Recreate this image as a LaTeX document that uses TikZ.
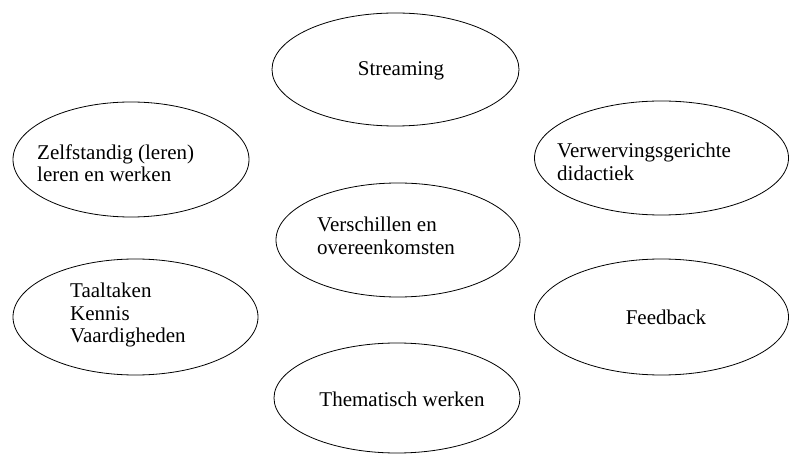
\documentclass[tikz,border=0pt]{standalone}
\usepackage{fontspec}
\setmainfont{Liberation Serif}
\usetikzlibrary{shapes.geometric}
\begin{document}
\begin{tikzpicture}[x=1pt,y=-1pt,
  bubble/.style={draw=black, line width=0.8pt, ellipse, inner sep=0pt},
  txt/.style={inner sep=0pt, align=left, font=\fontsize{21}{22.5}\selectfont}]
\useasboundingbox (0,0) rectangle (790,454);
% ellipses
\node[bubble, minimum width=247pt, minimum height=113pt] (e1) at (395.5,69.5) {};
\node[bubble, minimum width=236pt, minimum height=115pt] (e2) at (131,159.5) {};
\node[bubble, minimum width=254pt, minimum height=114pt] (e3) at (661.5,158) {};
\node[bubble, minimum width=244pt, minimum height=114pt] (e4) at (398,240) {};
\node[bubble, minimum width=245pt, minimum height=116pt] (e5) at (135.5,317) {};
\node[bubble, minimum width=254pt, minimum height=116pt] (e6) at (661.5,317) {};
\node[bubble, minimum width=246pt, minimum height=110pt] (e7) at (397,398) {};
% texts
\node[txt] (t1) at (401,71) {Streaming};
\node[txt, anchor=west] (t2) at (37,163) {Zelfstandig (leren)\\leren en werken};
\node[txt, anchor=west] (t3) at (557,162) {Verwervingsgerichte\\didactiek};
\node[txt, anchor=west] (t4) at (317,236) {Verschillen en\\overeenkomsten};
\node[txt, anchor=west] (t5) at (70,315) {Taaltaken\\Kennis\\Vaardigheden};
\node[txt] (t6) at (666,317) {Feedback};
\node[txt] (t7) at (402,399) {Thematisch werken};
\end{tikzpicture}
\end{document}
